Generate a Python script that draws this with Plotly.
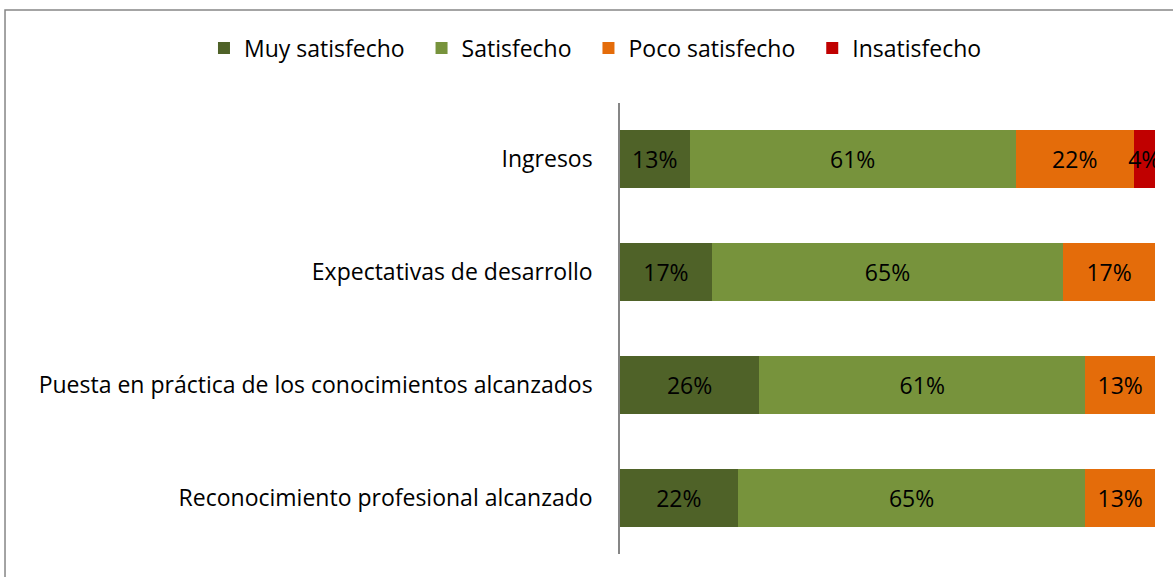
import plotly.graph_objects as go

categories = ["Ingresos", "Expectativas de desarrollo",
              "Puesta en práctica de los conocimientos alcanzados",
              "Reconocimiento profesional alcanzado"]
series_names = ["Muy satisfecho", "Satisfecho", "Poco satisfecho", "Insatisfecho"]
muy_satisfecho = [13, 17, 26, 22]
satisfecho = [61, 65, 61, 65]
poco_satisfecho = [22, 17, 13, 13]
insatisfecho = [4, None, None, None]
colors = ["#4F6228", "#77933C", "#E46C0A", "#C00000"]

FONT = "Open Sans"
FS = 23
NBSP = "\u00a0\u00a0"
fig = go.Figure()
for name, vals, col in zip(series_names,
                           [muy_satisfecho, satisfecho, poco_satisfecho, insatisfecho],
                           colors):
    fig.add_trace(go.Bar(
        y=categories, x=vals, name=name + NBSP, orientation="h",
        marker=dict(color=col, line=dict(width=0)),
        text=[f"{v}%" if v else "" for v in vals],
        textposition="inside", insidetextanchor="middle", textangle=0,
        constraintext="none",
        textfont=dict(family=FONT, size=FS, color="#000000"),
        hoverinfo="skip",
    ))

fig.update_layout(
    width=1173, height=577,
    barmode="stack", barnorm="percent", bargap=0.486,
    paper_bgcolor="white", plot_bgcolor="white",
    margin=dict(l=620, r=18, t=103, b=23),
    font=dict(family=FONT, size=FS, color="#000000"),
    showlegend=True,
    legend=dict(orientation="h", xref="paper", yref="paper",
                x=-0.7776, y=1.122, xanchor="left", yanchor="middle",
                font=dict(family=FONT, size=FS, color="#000000"),
                traceorder="normal"),
    xaxis=dict(range=[0, 100], visible=False, fixedrange=True),
    yaxis=dict(autorange="reversed", showline=True, linecolor="#868686",
               linewidth=1.5, ticks="", showgrid=False, zeroline=False,
               ticklabelstandoff=21, fixedrange=True,
               tickfont=dict(family=FONT, size=FS, color="#000000")),
    shapes=[dict(type="rect", xref="paper", yref="paper",
                 x0=-1.1495, x1=1.2, y0=-0.2, y1=1.2062,
                 line=dict(color="#868686", width=1.5), fillcolor="rgba(0,0,0,0)",
                 layer="below")],
)
fig.write_html("out.html", config={"displayModeBar": False},
               post_script="document.body.style.margin='0';")
